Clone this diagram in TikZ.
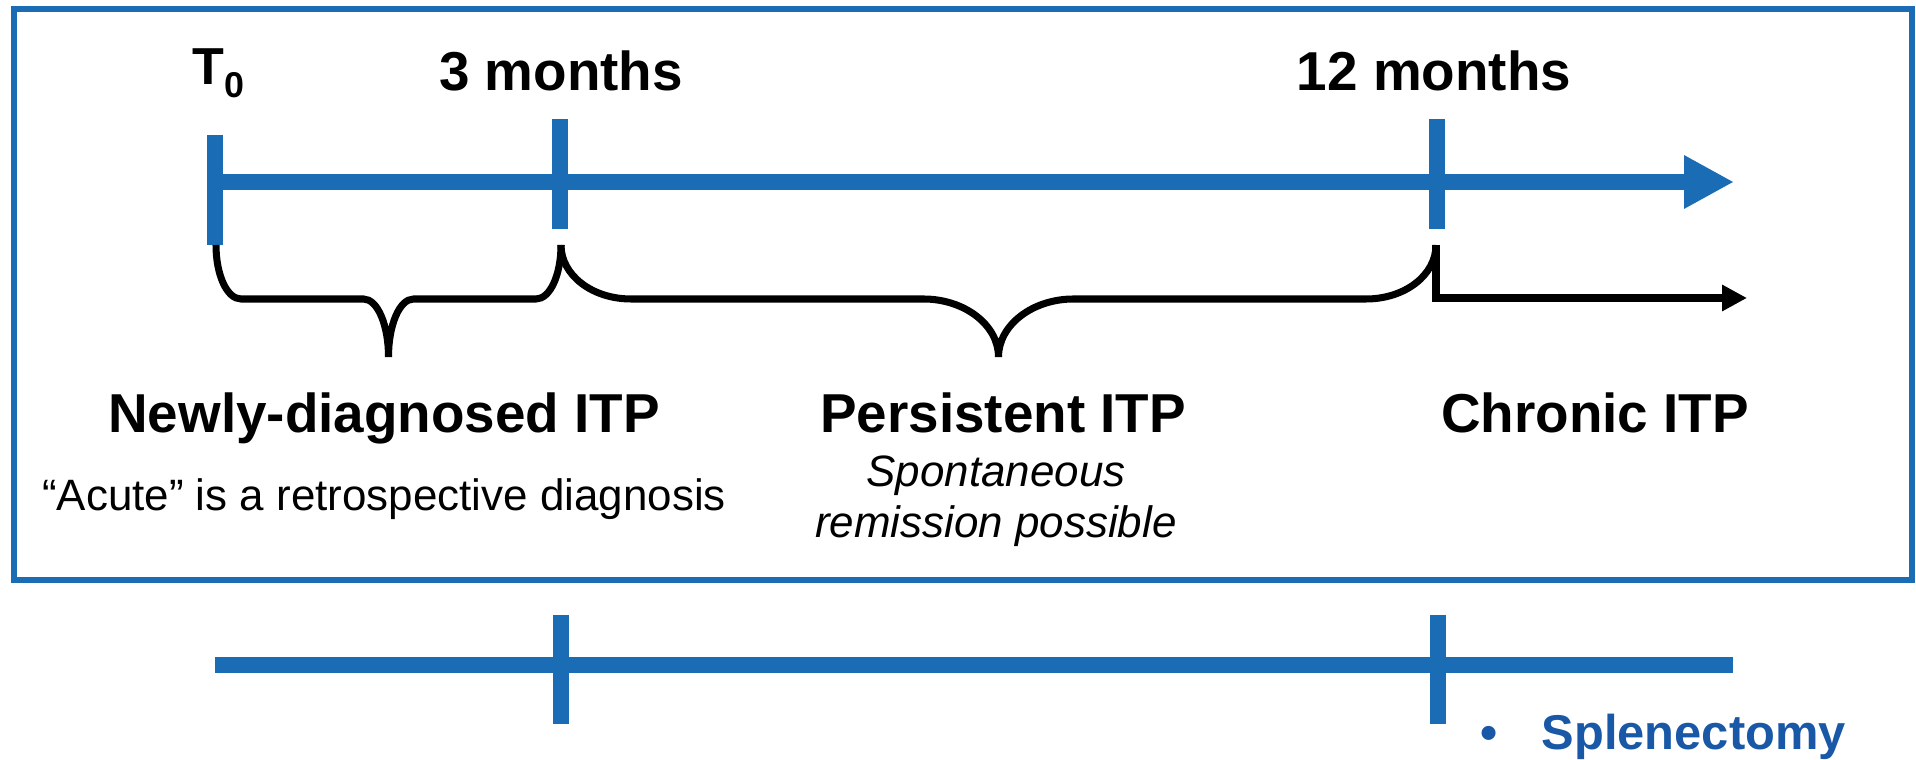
\documentclass[tikz,border=0pt]{standalone}
\usepackage{fontspec}
\setmainfont{Liberation Sans}
\usetikzlibrary{arrows.meta, calc}
\definecolor{cBlue}{RGB}{26,109,181}
\definecolor{cBlueDk}{RGB}{24,88,166}

\begin{document}
\begin{tikzpicture}[
  tline/.style={draw=cBlue, line width=0.16cm},
  tmark/.style={draw=cBlue, line width=0.16cm},
  brc/.style={draw=black, line width=2pt},
  hdr/.style={font=\fontsize{15.6}{18}\selectfont\bfseries, inner sep=0pt, anchor=base},
  note/.style={font=\fontsize{12.5}{14.5}\selectfont, inner sep=0pt, align=center},
  arr/.style={-{Triangle[length=2.5mm, width=2.5mm]}, line width=2pt, line join=miter}
]
\useasboundingbox (0,0) rectangle (19.16,-7.60);

%%=============================================================================
%% TOP PANEL — ITP phases
%%=============================================================================

%% Frame
\draw[cBlue, line width=1.6pt] (0.14,-0.09) rectangle (19.12,-5.80);

%% Time points
\coordinate (ax_start) at (2.15,-1.82);
\coordinate (ax_end)   at (17.34,-1.82);
\coordinate (t0_top)   at (2.15,-1.35);
\coordinate (t0_bot)   at (2.15,-2.45);
\coordinate (m3_top)   at (5.60,-1.19);
\coordinate (m3_bot)   at (5.60,-2.29);
\coordinate (m12_top)  at (14.37,-1.19);
\coordinate (m12_bot)  at (14.37,-2.29);

%% Brace ends
\coordinate (t0_brc)  at (2.16,-2.45);
\coordinate (m3_brc)  at (5.61,-2.45);
\coordinate (m12_brc) at (14.36,-2.45);
\coordinate (chr_end) at (17.47,-2.98);

%% Time labels
\node[hdr, anchor=base west, font=\fontsize{14.8}{18}\selectfont\bfseries]
  (t0_lbl) at (1.92,-0.85) {T\raisebox{-0.13cm}{\fontsize{10.2}{12}\selectfont 0}};
\node[hdr] (m3_lbl)  at (5.61,-0.91)  {3 months};
\node[hdr] (m12_lbl) at (14.34,-0.91) {12 months};

%% Timeline + ticks
\draw[tline, -{Triangle[length=5mm, width=5mm]}] (ax_start) -- (ax_end);
\draw[tmark] (t0_top)  -- (t0_bot);
\draw[tmark] (m3_top)  -- (m3_bot);
\draw[tmark] (m12_top) -- (m12_bot);

%% Braces
\draw[brc] (t0_brc) .. controls +(0,-0.30) and +(-0.14,0) .. ++(0.25,-0.54)
  -- ($(t0_brc)!0.5!(m3_brc)+(-0.25,-0.54)$)
  .. controls +(0.14,0) and +(0,0.32) .. ($(t0_brc)!0.5!(m3_brc)+(0,-1.12)$)
  .. controls +(0,0.32) and +(-0.14,0) .. ($(t0_brc)!0.5!(m3_brc)+(0.25,-0.54)$)
  -- ($(m3_brc)+(-0.25,-0.54)$) .. controls +(0.14,0) and +(0,-0.30) .. (m3_brc);
\draw[brc] (m3_brc) .. controls +(0,-0.30) and +(-0.39,0) .. ++(0.70,-0.54)
  -- ($(m3_brc)!0.5!(m12_brc)+(-0.75,-0.54)$)
  .. controls +(0.41,0) and +(0,0.32) .. ($(m3_brc)!0.5!(m12_brc)+(0,-1.12)$)
  .. controls +(0,0.32) and +(-0.41,0) .. ($(m3_brc)!0.5!(m12_brc)+(0.75,-0.54)$)
  -- ($(m12_brc)+(-0.70,-0.54)$) .. controls +(0.39,0) and +(0,-0.30) .. (m12_brc);

%% Chronic arrow
\draw[arr] (m12_brc) |- (chr_end);

%% Phase labels
\node[hdr] (new_lbl)  at (3.84,-4.33)  {Newly-diagnosed ITP};
\node[hdr] (pers_lbl) at (10.03,-4.33) {Persistent ITP};
\node[hdr] (chr_lbl)  at (15.95,-4.33) {Chronic ITP};

\node[note, anchor=base] (acute) at (3.84,-5.11)
  {“Acute” is a retrospective diagnosis};
\node[note, font=\fontsize{12.5}{14.5}\selectfont\itshape] (remis) at (9.96,-5.01)
  {Spontaneous\\remission possible};

%%=============================================================================
%% BOTTOM — treatment timeline
%%=============================================================================
\coordinate (b_start) at (2.15,-6.65);
\coordinate (b_end)   at (17.33,-6.65);
\coordinate (b3_top)  at (5.61,-6.15);
\coordinate (b3_bot)  at (5.61,-7.24);
\coordinate (b12_top) at (14.38,-6.15);
\coordinate (b12_bot) at (14.38,-7.24);

\draw[tline] (b_start) -- (b_end);
\draw[tmark] (b3_top)  -- (b3_bot);
\draw[tmark] (b12_top) -- (b12_bot);

\node[font=\fontsize{13.9}{16}\selectfont\bfseries, text=cBlueDk, inner sep=0pt,
  anchor=base west] (splen) at (14.80,-7.50) {\textbullet\hspace{0.44cm}Splenectomy};

\end{tikzpicture}
\end{document}
